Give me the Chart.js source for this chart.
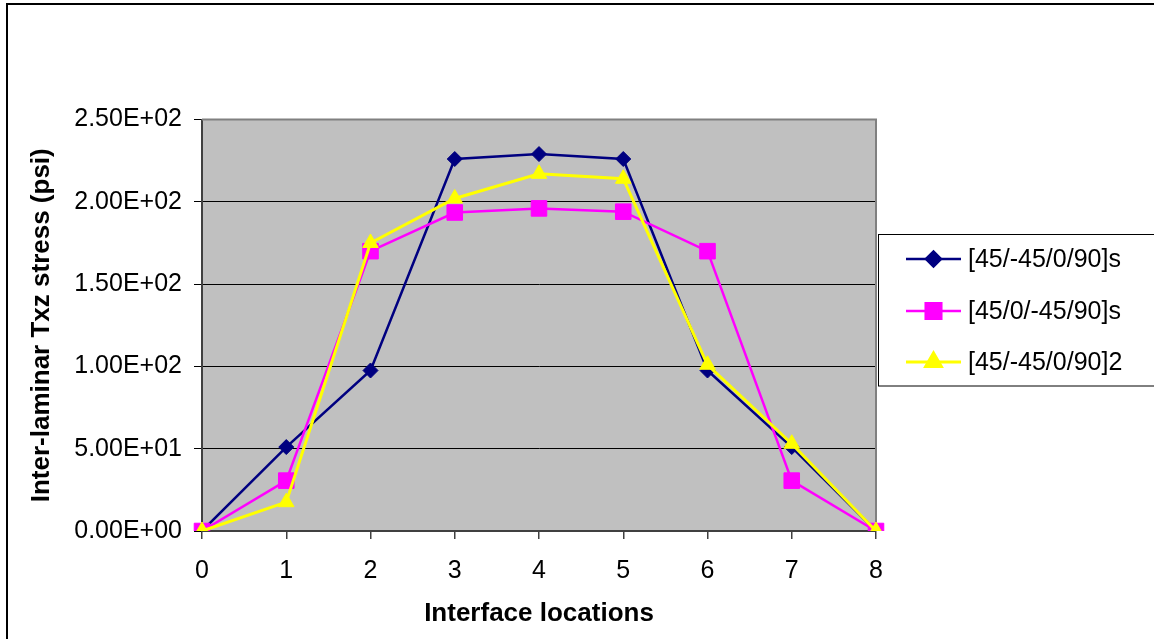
<!DOCTYPE html>
<html>
<head>
<meta charset="utf-8">
<title>Inter-laminar Txz stress</title>
<script src="https://cdn.jsdelivr.net/npm/chart.js@4.4.0/dist/chart.umd.min.js"></script>
<style>
  html, body { margin: 0; padding: 0; background: #fff; }
  #wrap { width: 1154px; height: 639px; }
</style>
</head>
<body>
<div id="wrap"><canvas id="chart" width="1154" height="639"></canvas></div>
<script>
const locations = ['0', '1', '2', '3', '4', '5', '6', '7', '8'];
const yTickLabels = ['0.00E+00', '5.00E+01', '1.00E+02', '1.50E+02', '2.00E+02', '2.50E+02'];

const seriesNames = ['[45/-45/0/90]s', '[45/0/-45/90]s', '[45/-45/0/90]2'];
const layupA = [0, 51, 97.5, 226, 229, 226, 97.5, 51, 0];
const layupB = [0, 30.6, 170, 193.5, 196, 194, 170, 30.6, 0];
const layupC = [0, 17.5, 175, 202, 217, 214, 101, 53, 0];

const FONT = '"Liberation Sans", Arial, sans-serif';

// grey plot background, gray top/right frame, outer border
const frame = {
  id: 'frame',
  beforeDatasetsDraw(chart) {
    const { ctx, chartArea: a } = chart;
    ctx.save();
    ctx.strokeStyle = '#808080';
    ctx.lineWidth = 2;
    ctx.beginPath();
    ctx.moveTo(a.left, a.top);
    ctx.lineTo(a.right, a.top);
    ctx.lineTo(a.right, a.bottom);
    ctx.stroke();
    ctx.restore();
  },
  beforeDraw(chart) {
    const { ctx, chartArea: a } = chart;
    ctx.save();
    ctx.fillStyle = '#c0c0c0';
    ctx.fillRect(a.left, a.top, a.right - a.left, a.bottom - a.top);
    ctx.restore();
  },
  afterDraw(chart) {
    const { ctx } = chart;
    ctx.save();
    ctx.strokeStyle = '#000';
    ctx.lineWidth = 2;
    ctx.strokeRect(7, 4, 1200, 700);
    ctx.restore();
  }
};

// legend box on the right, like the spreadsheet one
const boxLegend = {
  id: 'boxLegend',
  afterDraw(chart) {
    const { ctx } = chart;
    const x0 = 878.5, y0 = 234.5, w = 300, h = 151.5;
    const rows = [259, 311, 362];
    ctx.save();
    ctx.fillStyle = '#fff';
    ctx.fillRect(x0, y0, w, h);
    ctx.strokeStyle = '#000';
    ctx.lineWidth = 1;
    ctx.strokeRect(x0, y0, w, h);
    chart.data.datasets.forEach((ds, i) => {
      const y = rows[i];
      ctx.strokeStyle = ds.borderColor;
      ctx.lineWidth = ds.borderWidth;
      ctx.beginPath();
      ctx.moveTo(906, y);
      ctx.lineTo(961, y);
      ctx.stroke();
      Chart.helpers.drawPoint(ctx, {
        pointStyle: ds.pointStyle,
        radius: ds.pointRadius,
        borderWidth: 1
      }, 933.5, y);
      ctx.fillStyle = ds.pointBackgroundColor;
      ctx.strokeStyle = ds.pointBorderColor;
      ctx.lineWidth = 1;
      ctx.fill();
      ctx.stroke();
      ctx.fillStyle = '#000';
      ctx.font = '25px ' + FONT;
      ctx.textBaseline = 'middle';
      ctx.textAlign = 'left';
      ctx.fillText(ds.label, 968, y + 1);
    });
    ctx.restore();
  }
};

function series(label, data, color, style, radius, width, order) {
  return {
    label, data, order,
    borderColor: color,
    backgroundColor: color,
    borderWidth: width,
    pointStyle: style,
    pointRadius: radius,
    pointHoverRadius: radius,
    pointBackgroundColor: color,
    pointBorderColor: color,
    pointBorderWidth: 1,
    tension: 0
  };
}

new Chart(document.getElementById('chart'), {
  type: 'line',
  data: {
    labels: locations,
    datasets: [
      series(seriesNames[0], layupA, '#000080', 'rectRot', 7.5, 2.5, 3),
      series(seriesNames[1], layupB, '#ff00ff', 'rect', 11, 2.5, 2),
      series(seriesNames[2], layupC, '#ffff00', 'triangle', 9, 3, 1)
    ]
  },
  options: {
    responsive: false,
    animation: false,
    layout: { padding: { left: 0, top: 119.5, right: 278, bottom: 0 } },
    plugins: {
      legend: { display: false },
      tooltip: { enabled: false }
    },
    scales: {
      x: {
        type: 'category',
        offset: false,
        afterFit(scale) { scale.height = 108; },
        grid: { drawOnChartArea: false, drawTicks: true, tickLength: 8, color: '#404040', lineWidth: 1.5 },
        border: { display: true, color: '#404040', width: 2 },
        ticks: { color: '#000', font: { family: FONT, size: 25 }, padding: 17, maxRotation: 0 },
        title: {
          display: true,
          text: 'Interface locations',
          color: '#000',
          font: { family: FONT, size: 26, weight: 'bold' },
          padding: { top: 0, bottom: 10 }
        }
      },
      y: {
        min: 0,
        max: 250,
        afterFit(scale) { scale.width = 202; },
        grid: { color: '#000', lineWidth: 1, drawTicks: true, tickLength: 8 },
        border: { display: true, color: '#404040', width: 2 },
        ticks: {
          stepSize: 50,
          color: '#000',
          font: { family: FONT, size: 25 },
          padding: 12,
          callback: (v, i) => yTickLabels[i]
        },
        title: {
          display: true,
          text: 'Inter-laminar Txz stress (psi)',
          color: '#000',
          font: { family: FONT, size: 26, weight: 'bold' },
          padding: { top: 26, bottom: 0 }
        }
      }
    }
  },
  plugins: [frame, boxLegend]
});
</script>
</body>
</html>
